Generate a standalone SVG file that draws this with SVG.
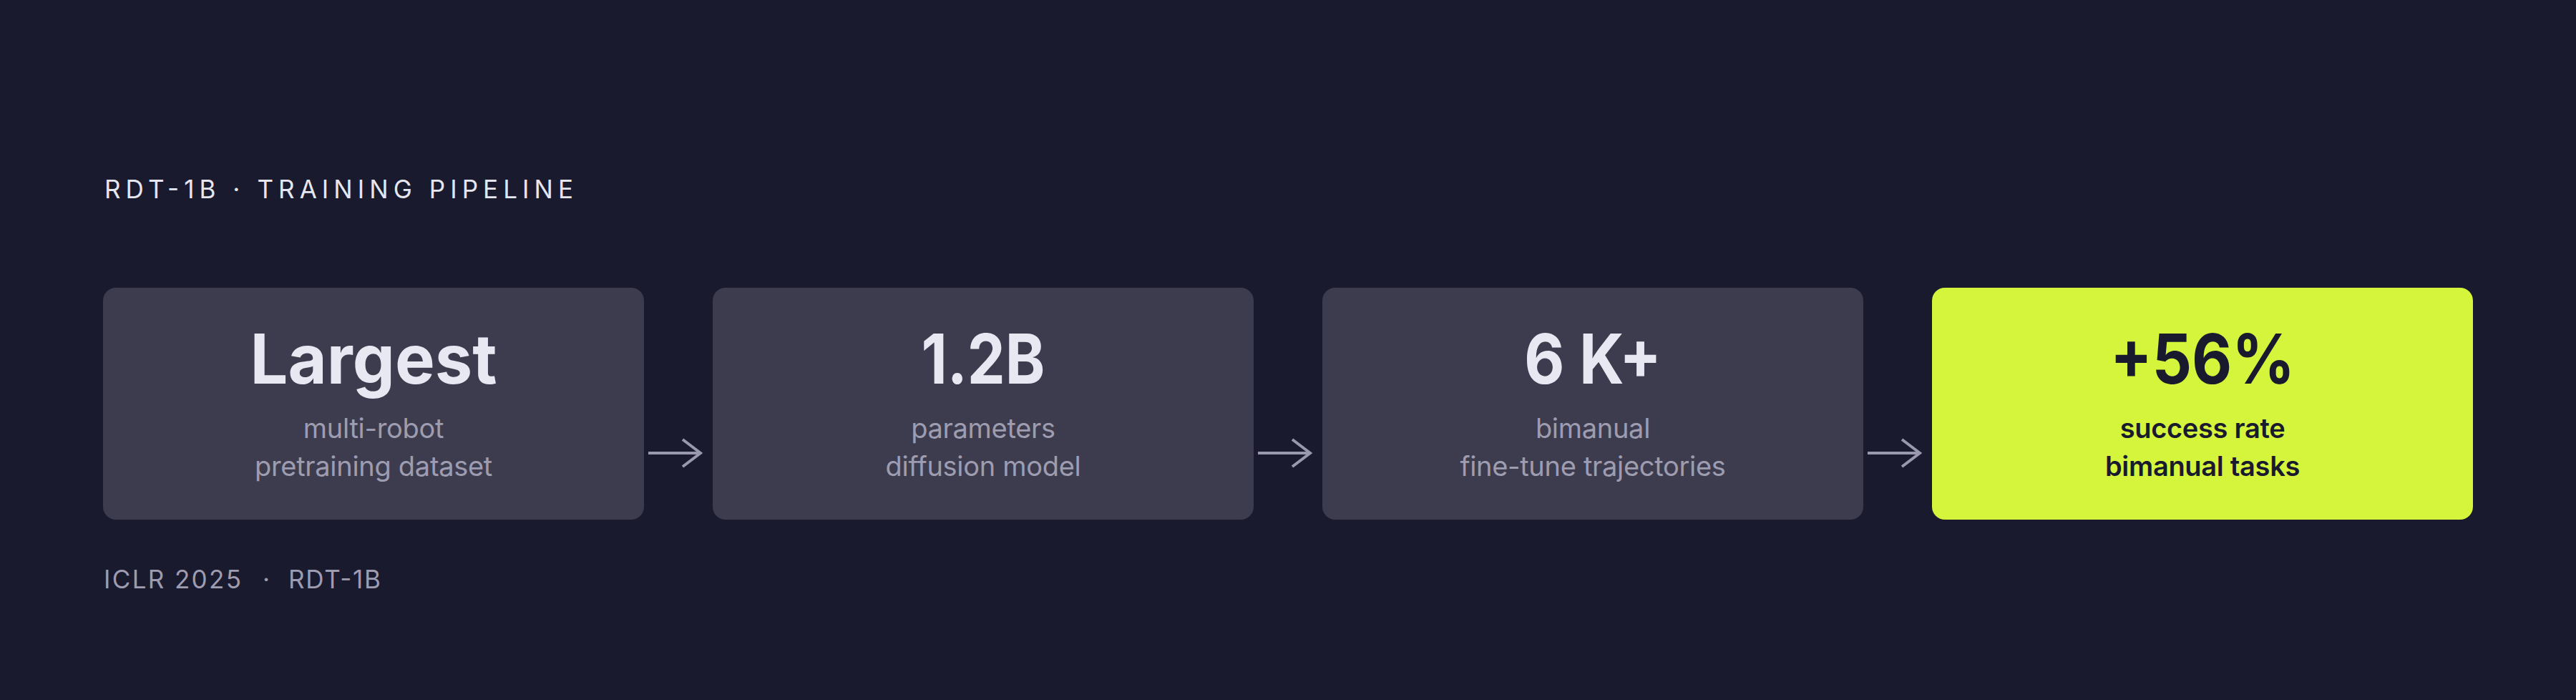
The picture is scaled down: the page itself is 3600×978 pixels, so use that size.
<svg xmlns="http://www.w3.org/2000/svg" width="3600" height="978" viewBox="0 0 3600 978">
<style>
.bg{fill:#1a1a2e}
.card{fill:#3d3c4e}
.hl{fill:#d4f53c}
.big{font-family:Inter,"Liberation Sans",sans-serif;font-weight:700;font-size:96px;fill:#e8e8f2;text-anchor:middle}
.big.dark{fill:#1a1a2e}
.sub{font-family:Inter,"Liberation Sans",sans-serif;font-weight:400;font-size:38px;fill:#9d9cb0;text-anchor:middle;letter-spacing:-0.3px}
.sub.dark{fill:#1a1a2e;font-weight:600}
.title{font-family:Inter,"Liberation Sans",sans-serif;font-weight:400;font-size:35px;fill:#e6e6f0}
.foot{font-family:Inter,"Liberation Sans",sans-serif;font-weight:400;font-size:35px;fill:#9d9cb0}
.arrow{fill:none;stroke:#9a98ae;stroke-width:4;stroke-linecap:butt;stroke-linejoin:miter}
</style>
<rect class="bg" x="0" y="0" width="3600" height="978"/>
<g id="header">
<text class="title" x="146" y="277" textLength="655" lengthAdjust="spacing">RDT-1B · TRAINING PIPELINE</text>
</g>
<g id="node-largest">
<rect class="card" x="144" y="402" width="756" height="324" rx="18"/>
<text class="big" x="522" y="536" textLength="345" lengthAdjust="spacingAndGlyphs">Largest</text>
<text class="sub" x="522" y="612">multi-robot</text>
<text class="sub" x="522" y="665">pretraining dataset</text>
</g>
<g id="node-params">
<rect class="card" x="996" y="402" width="756" height="324" rx="18"/>
<text class="big" x="1374" y="536" textLength="173" lengthAdjust="spacingAndGlyphs">1.2B</text>
<text class="sub" x="1374" y="612">parameters</text>
<text class="sub" x="1374" y="665">diffusion model</text>
</g>
<g id="node-traj">
<rect class="card" x="1848" y="402" width="756" height="324" rx="18"/>
<text class="big" x="2226" y="536" textLength="192" lengthAdjust="spacingAndGlyphs">6 K+</text>
<text class="sub" x="2226" y="612">bimanual</text>
<text class="sub" x="2226" y="665">fine-tune trajectories</text>
</g>
<g id="node-success">
<rect class="hl" x="2700" y="402" width="756" height="324" rx="18"/>
<text class="big dark" x="3078" y="536" textLength="258" lengthAdjust="spacingAndGlyphs">+56%</text>
<text class="sub dark" x="3078" y="612">success rate</text>
<text class="sub dark" x="3078" y="665">bimanual tasks</text>
</g>
<g id="connectors">
<path class="arrow" d="M906 633 H978 M954 614 L979 633 L954 652"/>
<path class="arrow" d="M1758 633 H1830 M1806 614 L1831 633 L1806 652"/>
<path class="arrow" d="M2610 633 H2682 M2658 614 L2683 633 L2658 652"/>
</g>
<g id="footer">
<text class="foot" x="145" y="822" textLength="192" lengthAdjust="spacing">ICLR 2025</text>
<text class="foot" x="372" y="822" text-anchor="middle">·</text>
<text class="foot" x="403" y="822" textLength="129" lengthAdjust="spacing">RDT-1B</text>
</g>
</svg>
